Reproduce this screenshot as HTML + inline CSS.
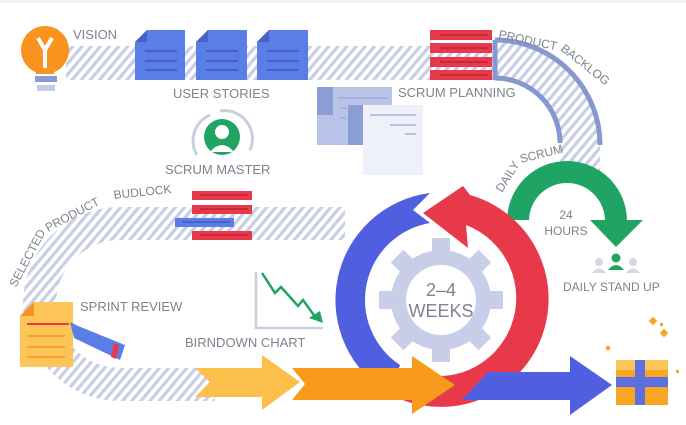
<!DOCTYPE html>
<html><head><meta charset="utf-8"><style>
html,body{margin:0;padding:0;background:#fff;width:686px;height:425px;overflow:hidden}
svg{display:block}
text{font-family:"Liberation Sans",sans-serif;fill:#7d838f}
</style></head><body>
<svg width="686" height="425" viewBox="0 0 686 425" xmlns="http://www.w3.org/2000/svg">
<defs>
<pattern id="h" width="7" height="7" patternUnits="userSpaceOnUse" patternTransform="rotate(40)">
<rect width="7" height="7" fill="#fff"/><rect width="3.2" height="7" fill="#c7cde5"/>
</pattern>
</defs>
<rect x="0" y="0" width="686" height="3" fill="#f2f2f2"/>
<rect x="66" y="46" width="430" height="34" fill="url(#h)"/>
<path d="M495 40 A105 105 0 0 1 600 145 L600 175 L560 175 L560 145 A65 65 0 0 0 495 80 Z" fill="url(#h)"/>
<path d="M495 40 A105 105 0 0 1 600 145" fill="none" stroke="#8797cf" stroke-width="5"/>
<path d="M495 80 L495 40" fill="none" stroke="#8797cf" stroke-width="5"/>
<path d="M495 78 A65 65 0 0 1 560 143" fill="none" stroke="#8797cf" stroke-width="5"/>
<path d="M345 207 L120 207 A97 97 0 0 0 120 401 L215 401 L215 368 L120 368 A64 64 0 0 1 120 240 L345 240 Z" fill="url(#h)"/>
<!-- bulb -->
<circle cx="45" cy="50" r="24" fill="#f7931e"/>
<rect x="36" y="64" width="18" height="10" fill="#f7931e"/>
<path d="M38 38 L45 50 L52 38 M45 50 L45 68" stroke="#fff" stroke-width="4" fill="none"/>
<rect x="35" y="76" width="22" height="6" fill="#8a98d6"/>
<rect x="37" y="85" width="18" height="6" fill="#c4cbe8"/>
<text x="73" y="39" font-size="13">VISION</text>
<g fill="#5b7de8">
<path d="M135 42 L147 30 L185 30 L185 80 L135 80Z"/>
<path d="M196 42 L208 30 L247 30 L247 80 L196 80Z"/>
<path d="M257 42 L269 30 L308 30 L308 80 L257 80Z"/>
</g>
<g fill="#4a62c8"><path d="M135 42 L147 30 L147 42Z"/><path d="M196 42 L208 30 L208 42Z"/><path d="M257 42 L269 30 L269 42Z"/></g>
<g stroke="#3f56b8" stroke-width="1.5">
<path d="M145 51h32M145 61h32M145 70h32M206 51h32M206 61h32M206 70h32M267 51h32M267 61h32M267 70h32"/>
</g>
<text x="173" y="98" font-size="13">USER STORIES</text>
<path d="M197 155 A28 28 0 0 1 210 115" stroke="#c9cedf" stroke-width="3" fill="none"/>
<path d="M220 111 A28 28 0 0 1 250 150" stroke="#c9cedf" stroke-width="3" fill="none"/>
<circle cx="222" cy="137" r="18" fill="#1fa463"/>
<circle cx="222" cy="132" r="7" fill="#fff"/>
<path d="M210 152 Q222 138 234 152Z" fill="#fff"/>
<text x="165" y="174" font-size="13">SCRUM MASTER</text>
<g fill="#e8394a"><rect x="430" y="30" width="62" height="10"/><rect x="430" y="43" width="62" height="10"/><rect x="430" y="57" width="62" height="10"/><rect x="430" y="70" width="62" height="10"/></g>
<g stroke="#b71f2e" stroke-width="1.3"><path d="M440 35h48M440 48h48M440 62h48M440 75h48"/></g>
<text font-size="12" transform="translate(498,38) rotate(12)">PRODUCT</text>
<text font-size="12" transform="translate(560,50) rotate(38)">BACKLOG</text>
<text x="398" y="97" font-size="13">SCRUM PLANNING</text>
<rect x="317" y="87" width="75" height="58" fill="#b9c3e7"/>
<rect x="317" y="87" width="16" height="28" fill="#8c9dd6"/>
<rect x="363" y="105" width="60" height="70" fill="#eef0fa"/>
<rect x="348" y="105" width="15" height="40" fill="#8c9dd6"/>
<g stroke="#9aa6d4" stroke-width="1.2"><path d="M338 98h50M340 108h6M340 118h6M370 115h46M390 125h26M405 134h11"/></g>
<text font-size="12" transform="translate(502,193) rotate(-58)">DAILY</text>
<text font-size="12" transform="translate(521,163) rotate(-14)">SCRUM</text>
<path d="M507 220 A60 60 0 0 1 627 222 L605 222 A38 38 0 0 0 529 220Z" fill="#1fa463"/>
<path d="M590 220 L643 220 L616 247Z" fill="#1fa463"/>
<text x="566" y="219" font-size="12" text-anchor="middle">24</text>
<text x="566" y="235" font-size="12" text-anchor="middle">HOURS</text>
<g fill="#d4d8e4"><circle cx="599" cy="262" r="4"/><path d="M592 273 Q599 264 606 273Z"/><circle cx="633" cy="262" r="4"/><path d="M626 273 Q633 264 640 273Z"/></g>
<g fill="#1fa463"><circle cx="616" cy="258" r="4.5"/><path d="M608 270 Q616 260 624 270Z"/></g>
<text x="563" y="291" font-size="12">DAILY STAND UP</text>
<g fill="#e8394a"><rect x="192" y="191" width="60" height="9"/><rect x="192" y="205" width="60" height="9"/><rect x="192" y="231" width="60" height="9"/></g>
<rect x="175" y="218" width="59" height="9" fill="#5b7de8"/>
<g stroke="#b71f2e" stroke-width="1.2"><path d="M200 195h48M200 209h48M200 235h48"/></g>
<path d="M182 222h48" stroke="#3f56b8" stroke-width="1.2"/>
<text font-size="12" transform="translate(16,288) rotate(-62)">SELECTED</text>
<text font-size="12" transform="translate(48,232) rotate(-28)">PRODUCT</text>
<text font-size="12" transform="translate(114,199) rotate(-6)">BUDLOCK</text>
<path d="M20 316 L34 302 L73 302 L73 367 L20 367Z" fill="#fbc657"/>
<path d="M20 316 L34 302 L34 316Z" fill="#f7931e"/>
<path d="M27 324h42" stroke="#e8394a" stroke-width="2"/>
<g stroke="#f7931e" stroke-width="1.5"><path d="M27 336h38M27 347h38M27 357h38"/></g>
<path d="M70 322 L78 326 L125 345 L120 360 L74 338Z" fill="#5b7de8"/>
<path d="M114 343 L111 357 L116 359 L119 345Z" fill="#e8394a"/>
<text x="80" y="311" font-size="13">SPRINT REVIEW</text>
<path d="M256 272 L256 328 L323 328" stroke="#c9cedf" stroke-width="2.5" fill="none"/>
<path d="M262 273 L275 293 L281 287 L298 306 L303 300 L316 318" stroke="#1fa463" stroke-width="2.5" fill="none"/>
<path d="M309 318 L323 323 L320 311Z" fill="#1fa463"/>
<text x="185" y="347" font-size="13">BIRNDOWN CHART</text>
<!-- gear -->
<g fill="#c8cee8" transform="translate(441,300)">
<circle r="50"/>
<g id="t"><rect x="-9" y="-62" width="18" height="18"/></g>
<use href="#t" transform="rotate(45)"/><use href="#t" transform="rotate(90)"/><use href="#t" transform="rotate(135)"/><use href="#t" transform="rotate(180)"/><use href="#t" transform="rotate(225)"/><use href="#t" transform="rotate(270)"/><use href="#t" transform="rotate(315)"/>
<circle r="35" fill="#fff"/>
</g>
<text x="441" y="296" font-size="18" text-anchor="middle" fill="#9aa0b0">2–4</text>
<text x="441" y="317" font-size="18" text-anchor="middle" fill="#9aa0b0">WEEKS</text>
<!-- blue arc -->
<path d="M430 193 A108 108 0 0 0 390 394 L400 365 A78 78 0 0 1 430 223 L413 210 Z" fill="#4f5fe0"/>
<!-- red arc -->
<path d="M470 195 A108 108 0 1 1 400 399 L410 371 A78 78 0 1 0 466 225 L468 248 L423 213 L463 186 Z" fill="#e8394a"/>
<path d="M195 368 L262 368 L262 355 L300 382 L262 410 L262 397 L195 397 L210 382Z" fill="#fbbf4a"/>
<path d="M292 368 L412 368 L412 356 L455 385 L412 414 L412 400 L292 400 L305 384Z" fill="#f89a1c"/>
<path d="M488 372 L570 372 L570 356 L612 385 L570 415 L570 400 L462 400Z" fill="#4f5fe0"/>
<rect x="616" y="360" width="52" height="45" fill="#f7a623"/>
<rect x="616" y="360" width="52" height="10" fill="#fbc657"/>
<rect x="635" y="360" width="10" height="45" fill="#5b6fe0"/>
<rect x="616" y="377" width="52" height="10" fill="#5b6fe0"/>
<g fill="#f7a623"><rect x="650" y="318" width="6" height="6" transform="rotate(45 653 321)"/><rect x="661" y="330" width="6" height="6" transform="rotate(45 664 333)"/><rect x="606" y="346" width="4" height="4" transform="rotate(45 608 348)"/><rect x="660" y="323" width="3" height="3"/><rect x="676" y="370" width="3" height="3"/></g>
</svg>
</body></html>
